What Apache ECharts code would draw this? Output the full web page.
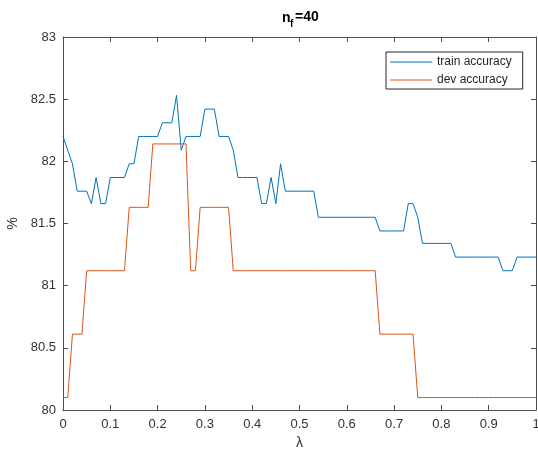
<!DOCTYPE html>
<html>
<head>
<meta charset="utf-8">
<title>accuracy vs lambda</title>
<script src="https://cdn.jsdelivr.net/npm/echarts@6/dist/echarts.min.js"></script>
<style>
html, body { margin: 0; padding: 0; background: #fff; }
#main-chart { width: 538px; height: 456px; }
</style>
</head>
<body>
<div id="main-chart"></div>
<script>
// lambda (x axis)
var lambdaVals = [
	0.00, 0.01, 0.02, 0.03, 0.04, 0.05, 0.06, 0.07, 0.08, 0.09,
	0.10, 0.11, 0.12, 0.13, 0.14, 0.15, 0.16, 0.17, 0.18, 0.19,
	0.20, 0.21, 0.22, 0.23, 0.24, 0.25, 0.26, 0.27, 0.28, 0.29,
	0.30, 0.31, 0.32, 0.33, 0.34, 0.35, 0.36, 0.37, 0.38, 0.39,
	0.40, 0.41, 0.42, 0.43, 0.44, 0.45, 0.46, 0.47, 0.48, 0.49,
	0.50, 0.51, 0.52, 0.53, 0.54, 0.55, 0.56, 0.57, 0.58, 0.59,
	0.60, 0.61, 0.62, 0.63, 0.64, 0.65, 0.66, 0.67, 0.68, 0.69,
	0.70, 0.71, 0.72, 0.73, 0.74, 0.75, 0.76, 0.77, 0.78, 0.79,
	0.80, 0.81, 0.82, 0.83, 0.84, 0.85, 0.86, 0.87, 0.88, 0.89,
	0.90, 0.91, 0.92, 0.93, 0.94, 0.95, 0.96, 0.97, 0.98, 0.99,
	1.00
];

// train accuracy (%)
var trainAcc = [
	82.20, 82.09, 81.98, 81.76, 81.76, 81.76, 81.66, 81.87, 81.66, 81.66,
	81.87, 81.87, 81.87, 81.87, 81.98, 81.98, 82.20, 82.20, 82.20, 82.20,
	82.20, 82.31, 82.31, 82.31, 82.53, 82.09, 82.20, 82.20, 82.20, 82.20,
	82.42, 82.42, 82.42, 82.20, 82.20, 82.20, 82.09, 81.87, 81.87, 81.87,
	81.87, 81.87, 81.66, 81.66, 81.87, 81.66, 81.98, 81.76, 81.76, 81.76,
	81.76, 81.76, 81.76, 81.76, 81.55, 81.55, 81.55, 81.55, 81.55, 81.55,
	81.55, 81.55, 81.55, 81.55, 81.55, 81.55, 81.55, 81.44, 81.44, 81.44,
	81.44, 81.44, 81.44, 81.66, 81.66, 81.55, 81.34, 81.34, 81.34, 81.34,
	81.34, 81.34, 81.34, 81.23, 81.23, 81.23, 81.23, 81.23, 81.23, 81.23,
	81.23, 81.23, 81.23, 81.12, 81.12, 81.12, 81.23, 81.23, 81.23, 81.23,
	81.23
];

// dev accuracy (%)
var devAcc = [
	80.10, 80.10, 80.61, 80.61, 80.61, 81.12, 81.12, 81.12, 81.12, 81.12,
	81.12, 81.12, 81.12, 81.12, 81.63, 81.63, 81.63, 81.63, 81.63, 82.14,
	82.14, 82.14, 82.14, 82.14, 82.14, 82.14, 82.14, 81.12, 81.12, 81.63,
	81.63, 81.63, 81.63, 81.63, 81.63, 81.63, 81.12, 81.12, 81.12, 81.12,
	81.12, 81.12, 81.12, 81.12, 81.12, 81.12, 81.12, 81.12, 81.12, 81.12,
	81.12, 81.12, 81.12, 81.12, 81.12, 81.12, 81.12, 81.12, 81.12, 81.12,
	81.12, 81.12, 81.12, 81.12, 81.12, 81.12, 81.12, 80.61, 80.61, 80.61,
	80.61, 80.61, 80.61, 80.61, 80.61, 80.10, 80.10, 80.10, 80.10, 80.10,
	80.10, 80.10, 80.10, 80.10, 80.10, 80.10, 80.10, 80.10, 80.10, 80.10,
	80.10, 80.10, 80.10, 80.10, 80.10, 80.10, 80.10, 80.10, 80.10, 80.10,
	80.10
];

var seriesNames = ['train accuracy', 'dev accuracy'];
var seriesColors = ['#0072BD', '#D95319'];

var axisColor = '#4d4d4d';
var textColor = '#333333';
var fontName = 'Liberation Sans, Arial, sans-serif';

function pairs(xs, ys){
	var out = [];
	for(var i = 0; i < xs.length; i++){
		out.push([xs[i], ys[i]]);
	}
	return out;
}

// MATLAB style box: ticks inside on all four sides
function boxAxis(type, pos, min, max, step, showLabel){
	return {
		type: 'value',
		position: pos,
		min: min,
		max: max,
		interval: step,
		axisLine: { show: true, onZero: false, lineStyle: { color: axisColor, width: 1 } },
		axisTick: { show: true, inside: true, length: 5, lineStyle: { color: axisColor } },
		axisLabel: {
			show: showLabel,
			color: textColor,
			fontFamily: fontName,
			fontSize: 13,
			margin: type == 'x' ? 8 : 7
		},
		splitLine: { show: false }
	};
}

var xBottom = boxAxis('x', 'bottom', 0, 1, 0.1, true);
xBottom.name = 'λ';
xBottom.nameLocation = 'middle';
xBottom.nameGap = 25;
xBottom.nameTextStyle = { color: textColor, fontFamily: fontName, fontSize: 14 };
var xTop = boxAxis('x', 'top', 0, 1, 0.1, false);

var yLeft = boxAxis('y', 'left', 80, 83, 0.5, true);
yLeft.name = '%';
yLeft.nameLocation = 'middle';
yLeft.nameGap = 42;
yLeft.nameTextStyle = { color: textColor, fontFamily: fontName, fontSize: 14 };
var yRight = boxAxis('y', 'right', 80, 83, 0.5, false);

var myChart = echarts.init(document.getElementById('main-chart'), null, { renderer: 'canvas' });

var option = {
	animation: false,
	backgroundColor: '#ffffff',
	grid: { left: 63, right: 2, top: 37, bottom: 46, containLabel: false, outerBoundsMode: 'none' },
	legend: {
		left: 386,
		top: 52,
		orient: 'vertical',
		data: seriesNames,
		icon: 'rect',
		itemWidth: 42,
		itemHeight: 1,
		itemGap: 4,
		padding: [3, 11, 2, 4],
		borderColor: '#262626',
		borderWidth: 1,
		backgroundColor: '#ffffff',
		textStyle: { color: '#262626', fontFamily: fontName, fontSize: 12, lineHeight: 14 }
	},
	graphic: [
		// title: n_f=40
		{ type: 'text', left: 282, top: 11, style: { text: 'n', font: 'bold 14px ' + fontName, fill: '#000' } },
		{ type: 'text', left: 290, top: 19, style: { text: 'f', font: 'bold 10px ' + fontName, fill: '#000' } },
		{ type: 'text', left: 295, top: 10, style: { text: '=40', font: 'bold 14px ' + fontName, fill: '#000' } }
	],
	xAxis: [xBottom, xTop],
	yAxis: [yLeft, yRight],
	series: [
		{
			name: seriesNames[0],
			type: 'line',
			xAxisIndex: 0,
			yAxisIndex: 0,
			data: pairs(lambdaVals, trainAcc),
			showSymbol: false,
			symbol: 'none',
			lineStyle: { color: seriesColors[0], width: 1 },
			itemStyle: { color: seriesColors[0] }
		},
		{
			name: seriesNames[1],
			type: 'line',
			xAxisIndex: 0,
			yAxisIndex: 0,
			data: pairs(lambdaVals, devAcc),
			showSymbol: false,
			symbol: 'none',
			lineStyle: { color: seriesColors[1], width: 1 },
			itemStyle: { color: seriesColors[1] }
		}
	]
};

myChart.setOption(option);
</script>
</body>
</html>
